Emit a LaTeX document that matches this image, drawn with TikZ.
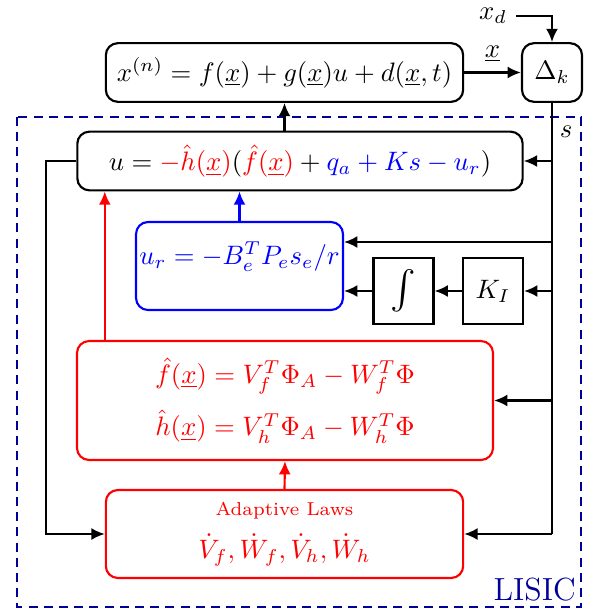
\documentclass[tikz,border=0pt]{standalone}
\usepackage{amsmath}
\usepackage{xcolor}
\usetikzlibrary{arrows.meta,calc,positioning}
\definecolor{lisic}{HTML}{000099}
\definecolor{adred}{HTML}{FF0000}
\definecolor{adblue}{HTML}{0000FF}
\tikzset{arr/.style={-{Latex[length=5pt,width=4.5pt]}, thick}, blk/.style={draw, thick, rounded corners=4.5pt, inner sep=0pt}, sqr/.style={draw, thick, minimum width=22.5pt, minimum height=25pt, inner sep=0pt}, redblk/.style={blk, draw=adred, text=adred, align=center}, blublk/.style={blk, draw=adblue, text=adblue}}

\begin{document}
\begin{tikzpicture}[x=0.375pt,y=-0.375pt]
\useasboundingbox (0,0) rectangle (594,614);
\draw[lisic, dash pattern=on 3.4pt off 2.3pt, line width=0.9pt] (17,117) rectangle (581,607);
\node[text=lisic, anchor=south east, inner sep=1pt, font=\large] (lisic) at (579,604) {LISIC};
% plant and error
\node[blk, minimum width=134pt, minimum height=22pt] (plant) at (284.5,72.5) {$x^{(n)}=f(\underline{x})+g(\underline{x})u+d(\underline{x},t)$};
\node[blk, minimum width=22.5pt, minimum height=22pt] (delta) at (552,72.5) {$\Delta_k$};
\node (xd) at (493,16) {$x_d$};
\node (s) at (566,132) {$s$};
% controller
\node[blk, minimum width=167pt, minimum height=22pt] (u) at (300,161) {$u=\textcolor{adred}{-\hat h(\underline{x})}(\textcolor{adred}{\hat f(\underline{x})}+\textcolor{adblue}{q_a+Ks-u_r})$};
\node[blublk, minimum width=77.6pt, minimum height=33pt, text height=7pt, text depth=8pt] (ur) at (239.5,266) {$u_r=-B_e^TP_es_e/r$};
\node[sqr] (ki) at (493,291) {$K_I$};
\node[sqr] (int) at (403.5,291) {\Large$\int$};
\node[redblk, minimum width=156pt, minimum height=44.6pt] (fh) at (285,400.5) {$\hat f(\underline{x})=V_f^T\Phi_A-W_f^T\Phi$\\[5pt] $\hat h(\underline{x})=V_h^T\Phi_A-W_h^T\Phi$};
\node[redblk, minimum width=134pt, minimum height=33pt] (ad) at (284.5,534) {{\scriptsize Adaptive Laws}\\[4pt] $\dot V_f,\dot W_f,\dot V_h,\dot W_h$};
% connections
\draw[arr] (xd.east) -| (delta.north);
\draw[arr] (plant.east) -- node[above] {$\underline{x}$} (delta.west);
\draw[arr] (u.north -| plant.south) -- (plant.south);
\coordinate (send) at (delta.south |- ad.east);
\draw[thick] (delta.south) -- (send);
\draw[arr] (send) -- (ad.east);
\draw[arr] (delta.south |- u.east) -- (u.east);
\draw[arr] (delta.south |- 0,242) -- (ur.east |- 0,242);
\draw[arr] (delta.south |- ki.east) -- (ki.east);
\draw[arr] (ki.west) -- (int.east);
\draw[arr] (int.west) -- (ur.east |- int.west);
\draw[arr] (delta.south |- fh.east) -- (fh.east);
\draw[arr, adblue] (ur.north) -- (u.south -| ur.north);
\draw[arr, adred] (fh.north -| ad.west) -- (u.south -| ad.west);
\draw[arr, adred] (ad.north) -- (fh.south);
\draw[arr] (u.west) -- ++(-30,0) |- (ad.west);
\end{tikzpicture}
\end{document}
